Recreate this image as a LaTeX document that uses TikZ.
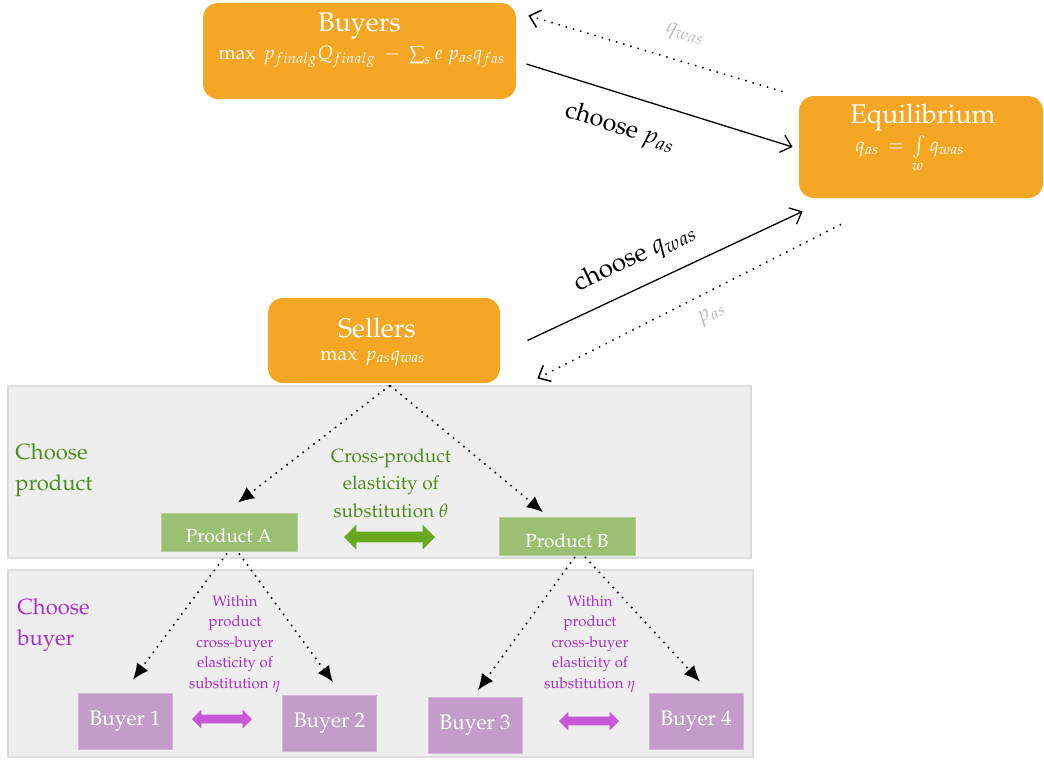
\documentclass[tikz,border=0pt]{standalone}
\usepackage[T1]{fontenc}
\usepackage{mathpazo}
\usepackage{tikz}
\usetikzlibrary{
  positioning, arrows.meta, shapes.arrows, calc
}
\definecolor{mktOrange}{HTML}{F5A623}
\definecolor{mktPanel}{HTML}{EEEEEE}
\definecolor{mktEdge}{HTML}{DCDCDC}
\definecolor{mktGreen}{HTML}{9BBF73}
\definecolor{mktGreenDark}{HTML}{67A81E}
\definecolor{mktGreenText}{HTML}{4E8C1C}
\definecolor{mktPurple}{HTML}{C49CCA}
\definecolor{mktPurpleDark}{HTML}{C857D8}
\definecolor{mktPurpleText}{HTML}{A830C8}
\definecolor{mktGrey}{HTML}{BBBBBB}

\begin{document}
\begin{tikzpicture}[x=0.5pt, y=-0.5pt,
    mainbox/.style={rounded corners=7.5pt, fill=mktOrange, inner sep=0pt},
    boxtitle/.style={text=white, inner sep=1pt, font=\fontsize{13.5}{15}\selectfont},
    boxformula/.style={text=white, inner sep=1pt, font=\fontsize{9.7}{11}\selectfont},
    prodbox/.style={fill=mktGreen, draw=mktGreen!75!white, text=white,
      minimum width=68pt, minimum height=19pt, text height=10.5pt, text depth=0pt,
      font=\fontsize{9.5}{11}\selectfont},
    buyerbox/.style={fill=mktPurple, draw=mktPurple!75!white, text=white,
      minimum width=47pt, minimum height=28pt,
      font=\fontsize{10.5}{12}\selectfont},
    panel/.style={fill=mktPanel, draw=mktEdge, line width=0.8pt},
    choice/.style={-{Straight Barb[length=5pt,width=9pt]}, line width=0.65pt},
    reply/.style={-{Straight Barb[length=5pt,width=9pt]}, line width=0.75pt,
      dash pattern=on 0.75pt off 3pt},
    flow/.style={-{Latex[length=8pt,width=7pt]}, line width=0.8pt,
      dash pattern=on 0.8pt off 2.6pt},
    swap/.style={double arrow, draw=none, inner sep=0pt,
      double arrow head extend=3pt},
    lvl/.style={anchor=west, align=left, inner sep=0pt,
      font=\fontsize{11}{15.5}\selectfont}
  ]
  \useasboundingbox (0,0) rectangle (1044,760);
  % ---- levels of choice ----
  \draw[panel] (8,386) rectangle (751,558);
  \draw[panel] (8,570) rectangle (753,757);
  \node[lvl, text=mktGreenText] (lvlProd) at (15,470) {Choose\\product};
  \node[lvl, text=mktPurpleText] (lvlBuy) at (17,625) {Choose\\buyer};

  % ---- agents ----
  \node[mainbox, minimum width=156.5pt, minimum height=48pt]
    (buyers) at (359.5,51) {};
  \node[boxtitle] (buyersT) at (359.5,26) {Buyers};
  \node[boxformula] (buyersF) at (362,57)
    {$\max\ p_{final g}Q_{final g}\ -\ \sum_s e\ p_{as}q_{fas}$};

  \node[mainbox, minimum width=122pt, minimum height=51pt]
    (equil) at (921,147) {};
  \node[boxtitle] (equilT) at (923,118) {Equilibrium};
  \node[boxformula] (equilF) at (910,154)
    {$q_{as}\,=\,\int\limits_w q_{was}$};

  \node[mainbox, minimum width=116pt, minimum height=42.5pt]
    (sellers) at (384,340.5) {};
  \node[boxtitle] (sellersT) at (377,328) {Sellers};
  \node[boxformula] (sellersF) at (373,358) {$\max\ p_{as}q_{was}$};

  % ---- market arrows ----
  \draw[choice] ($(buyers.east)+(10,13)$) -- ($(equil.west)+(-6,0)$);
  \node[rotate=-17.3, font=\fontsize{12.5}{14}\selectfont]
    (chooseP) at (620,128) {choose $p_{as}$};
  \draw[reply] ($(equil.north west)+(-16,-4)$) -- ($(buyers.north east)+(12,13)$);
  \node[rotate=-16.6, text=mktGrey, font=\fontsize{11}{13}\selectfont]
    (qLbl) at (685,35) {$q_{was}$};

  \draw[choice] ($(sellers.east)+(27,0)$) -- ($(equil.south west)+(4,13)$);
  \node[rotate=25.2, font=\fontsize{13}{15}\selectfont]
    (chooseQ) at (635,258) {choose $q_{was}$};
  \draw[reply] ($(equil.south)+(-80,26)$) -- ($(sellers.south east)+(37,-5)$);
  \node[rotate=27, text=mktGrey, font=\fontsize{11}{13}\selectfont]
    (pLbl) at (712,315) {$p_{as}$};

  % ---- products ----
  \node[prodbox] (prodA) at (229,532) {Product A};
  \node[prodbox] (prodB) at (567,536.5) {Product B};
  \draw[flow] ($(sellers.south)+(6,2)$) -- ($(prodA.north)+(9,-10)$);
  \draw[flow] ($(sellers.south)+(6,2)$) -- ($(prodB.north)+(-24,-5)$);
  \node[swap, fill=mktGreenDark, minimum height=45.5pt,
    double arrow head extend=3.5pt, inner ysep=2.5pt] (swapProd) at (389.5,537) {};
  \node[align=center, text=mktGreenText, font=\fontsize{9.5}{13.75}\selectfont]
    (thetaTxt) at (391,483) {Cross-product\\elasticity of\\substitution $\theta$};

  % ---- buyers per product ----
  \node[buyerbox] (buyer1) at (125,721) {Buyer 1};
  \node[buyerbox] (buyer2) at (329.5,723.5) {Buyer 2};
  \node[buyerbox] (buyer3) at (475,725.5) {Buyer 3};
  \node[buyerbox] (buyer4) at (696,721) {Buyer 4};
  \draw[flow] ($(prodA.south)+(-2,2)$) -- ($(buyer1.north)+(8,-13)$);
  \draw[flow] ($(prodA.south)+(10,2)$) -- ($(buyer2.north)+(3.5,-13)$);
  \draw[flow] ($(prodB.south)+(8,1)$) -- ($(buyer3.north)+(3,-7)$);
  \draw[flow] ($(prodB.south)+(18,1)$) -- ($(buyer4.north)+(4,-11)$);
  \node[swap, fill=mktPurpleDark, minimum height=30pt,
    double arrow head extend=2.5pt, inner ysep=2pt] (swapAB) at (222,719) {};
  \node[swap, fill=mktPurpleDark, minimum height=30pt,
    double arrow head extend=2.5pt, inner ysep=2pt] (swapCD) at (589,721) {};
  \foreach \cx/\nm in {235/etaA, 590/etaB}
    \node[align=center, text=mktPurpleText, font=\fontsize{7.5}{10.25}\selectfont]
      (\nm) at (\cx,644)
      {Within\\product\\cross-buyer\\elasticity of\\substitution $\eta$};
\end{tikzpicture}
\end{document}
